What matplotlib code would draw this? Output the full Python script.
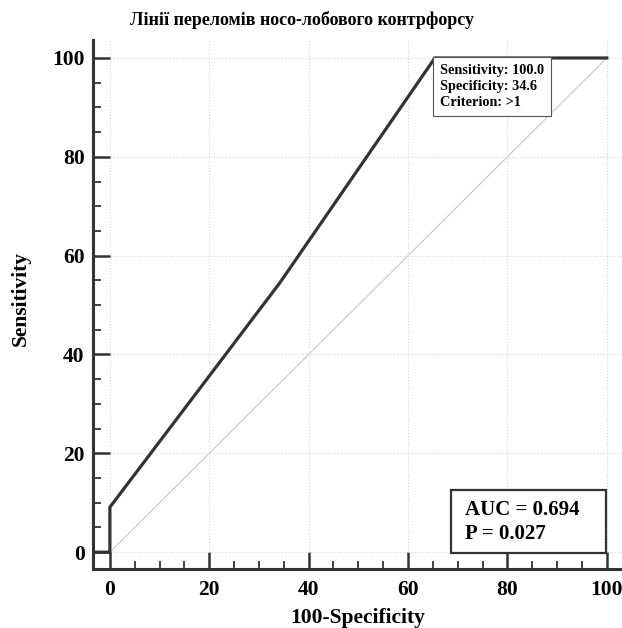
import numpy as np
import matplotlib
matplotlib.use("Agg")
import matplotlib.pyplot as plt
from matplotlib.ticker import MultipleLocator
from matplotlib.patches import Rectangle

# ROC curve points (100-Specificity, Sensitivity)
fpr = [-3.4, 0, 0, 34.2, 65.4, 100]
tpr = [0, 0, 9.1, 54.5, 100, 100]

title = "Лінії переломів носо-лобового контрфорсу"
crit_text = ["Sensitivity: 100.0", "Specificity: 34.6", "Criterion: >1"]
crit_point = (65.4, 100)
auc_text = ["AUC = 0.694", "P = 0.027"]

plt.rcParams['font.family'] = ['Liberation Serif', 'DejaVu Serif']
plt.rcParams['font.weight'] = 'bold'

fig = plt.figure(figsize=(6.22, 6.28), dpi=100)
ax = fig.add_axes([0.1495, 0.094, 0.85, 0.842])

ax.set_xlim(-3.4, 103)
ax.set_ylim(-3.4, 103.6)

# grid + diagonal
ax.grid(True, which='major', color='#d8d8d8', linestyle=':', linewidth=0.8)
ax.plot([0, 100], [0, 100], color='#c8c8c8', linewidth=0.8, zorder=1)

ax.plot(fpr, tpr, color='#333333', linewidth=2.3, zorder=3, solid_joinstyle='miter')

for s in ['top', 'right']:
    ax.spines[s].set_visible(False)
for s in ['left', 'bottom']:
    ax.spines[s].set_linewidth(2.2)
    ax.spines[s].set_color('#333333')

ax.xaxis.set_major_locator(MultipleLocator(20))
ax.yaxis.set_major_locator(MultipleLocator(20))
ax.xaxis.set_minor_locator(MultipleLocator(5))
ax.yaxis.set_minor_locator(MultipleLocator(5))
ax.tick_params(which='major', direction='in', length=12, width=1.8, color='#333333',
               labelsize=15.5)
ax.tick_params(axis='x', which='major', pad=8)
ax.tick_params(axis='y', which='major', pad=6)
ax.tick_params(which='minor', direction='in', length=6, width=1.3, color='#333333')
for lbl in ax.get_xticklabels() + ax.get_yticklabels():
    lbl.set_fontweight('bold')

ax.set_xlabel("100-Specificity", fontsize=15.5, fontweight='bold', labelpad=6)
ax.set_ylabel("Sensitivity", fontsize=15.5, fontweight='bold')
ax.yaxis.set_label_coords(-0.118, 0.512)
fig.suptitle(title, fontsize=13, fontweight='bold', x=0.486, y=0.983, va='top')

# criterion box anchored at the ROC corner
ax.text(crit_point[0] + 1.0, crit_point[1] - 1.2, "\n".join(crit_text),
        fontsize=10.3, fontweight='bold', va='top', ha='left', linespacing=1.32,
        bbox=dict(boxstyle='square,pad=0.5', facecolor='white', edgecolor='#555555',
                  linewidth=0.8), zorder=4)

# AUC box
box = Rectangle((0.677, 0.0295), 0.293, 0.119, transform=ax.transAxes,
                facecolor='white', edgecolor='#333333', linewidth=1.6, zorder=4)
ax.add_patch(box)
ax.text(0.703, 0.089, "\n".join(auc_text), transform=ax.transAxes,
        fontsize=15, fontweight='bold', va='center', ha='left', linespacing=1.3,
        zorder=5)

fig.savefig("out.png", dpi=100)
